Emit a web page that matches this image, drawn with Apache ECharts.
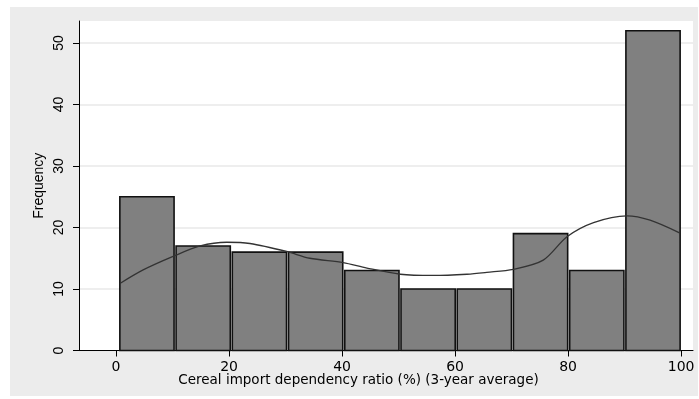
<!DOCTYPE html>
<html><head><meta charset="utf-8">
<script src="https://cdn.jsdelivr.net/npm/echarts@6/dist/echarts.min.js"></script>
<style>html,body{margin:0;padding:0;background:#fff}#c{width:699px;height:399px}</style>
</head><body><div id="c"></div>
<script>
var binEdges = [0.5, 10.45, 20.4, 30.35, 40.3, 50.25, 60.2, 70.15, 80.1, 90.05, 100];
var counts = [25, 17, 16, 16, 13, 10, 10, 19, 13, 52];
var kdeX = [0.7, 4.8, 10.1, 14.9, 19.6, 23.7, 30.2, 34.3, 40.2, 44.4, 50.3, 56.1, 62.1, 65.6, 70.3, 75.6, 79.8, 84.5, 90.4, 94.5, 99.8];
var kdeY = [10.9, 13.1, 15.3, 17.0, 17.6, 17.4, 16.1, 15.0, 14.3, 13.4, 12.4, 12.2, 12.4, 12.7, 13.2, 14.7, 18.5, 20.8, 21.9, 21.2, 19.1];
var xTicks = [0, 20, 40, 60, 80, 100];
var yTicks = [0, 10, 20, 30, 40, 50];
var xTitle = 'Cereal import dependency ratio (%) (3-year average)';
var yTitle = 'Frequency';

var barData = counts.map(function (c, i) { return [binEdges[i], binEdges[i + 1], c]; });
var lineData = kdeX.map(function (x, i) { return [x, kdeY[i]]; });
var FONT = 'Liberation Sans';
var WIDE = 'DejaVu Sans';

var chart = echarts.init(document.getElementById('c'), null, {renderer: 'canvas'});
chart.setOption({
  animation: false,
  backgroundColor: '#ffffff',
  graphic: [{type: 'rect', z: -10, silent: true, shape: {x: 10, y: 7, width: 688, height: 389}, style: {fill: '#ececec'}}],
  grid: {left: 79, right: 6, top: 21, bottom: 48.5, show: true, backgroundColor: '#ffffff', borderWidth: 0},
  xAxis: {
    type: 'value', min: -6.55, max: 102.1,
    name: xTitle, nameLocation: 'middle', nameGap: 23, nameMoveOverlap: false,
    nameTextStyle: {fontFamily: WIDE, fontSize: 13.5, color: '#000', padding: [0, 55, 0, 0]},
    axisLine: {show: true, onZero: false, lineStyle: {color: '#000', width: 1}},
    axisTick: {show: true, length: 6, customValues: xTicks, lineStyle: {color: '#000'}},
    axisLabel: {customValues: xTicks, margin: 10, fontFamily: WIDE, fontSize: 14, color: '#000'},
    splitLine: {show: false}
  },
  yAxis: {
    type: 'value', min: 0, max: 53.58,
    name: yTitle, nameLocation: 'middle', nameGap: 33, nameMoveOverlap: false,
    nameTextStyle: {fontFamily: FONT, fontSize: 14, color: '#000'},
    axisLine: {show: true, onZero: false, lineStyle: {color: '#000', width: 1}},
    axisTick: {show: true, length: 6, customValues: yTicks, lineStyle: {color: '#000'}},
    axisLabel: {customValues: yTicks, rotate: 90, margin: 13, fontFamily: FONT, fontSize: 14, color: '#000'},
    splitLine: {show: true, lineStyle: {color: '#e8e8e8', width: 1.5}}
  },
  series: [{
    type: 'custom',
    data: barData,
    encode: {x: [0, 1], y: 2},
    renderItem: function (params, api) {
      var p0 = api.coord([api.value(0), api.value(2)]);
      var p1 = api.coord([api.value(1), 0]);
      return {
        type: 'rect',
        shape: {x: p0[0] + 1, y: p0[1], width: p1[0] - p0[0] - 2, height: p1[1] - p0[1]},
        style: {fill: '#808080', stroke: '#111', lineWidth: 1.6}
      };
    },
    z: 2
  }, {
    type: 'line',
    data: lineData,
    smooth: 0.3,
    showSymbol: false,
    lineStyle: {color: '#333', width: 1.3},
    z: 3
  }]
});
</script></body></html>
